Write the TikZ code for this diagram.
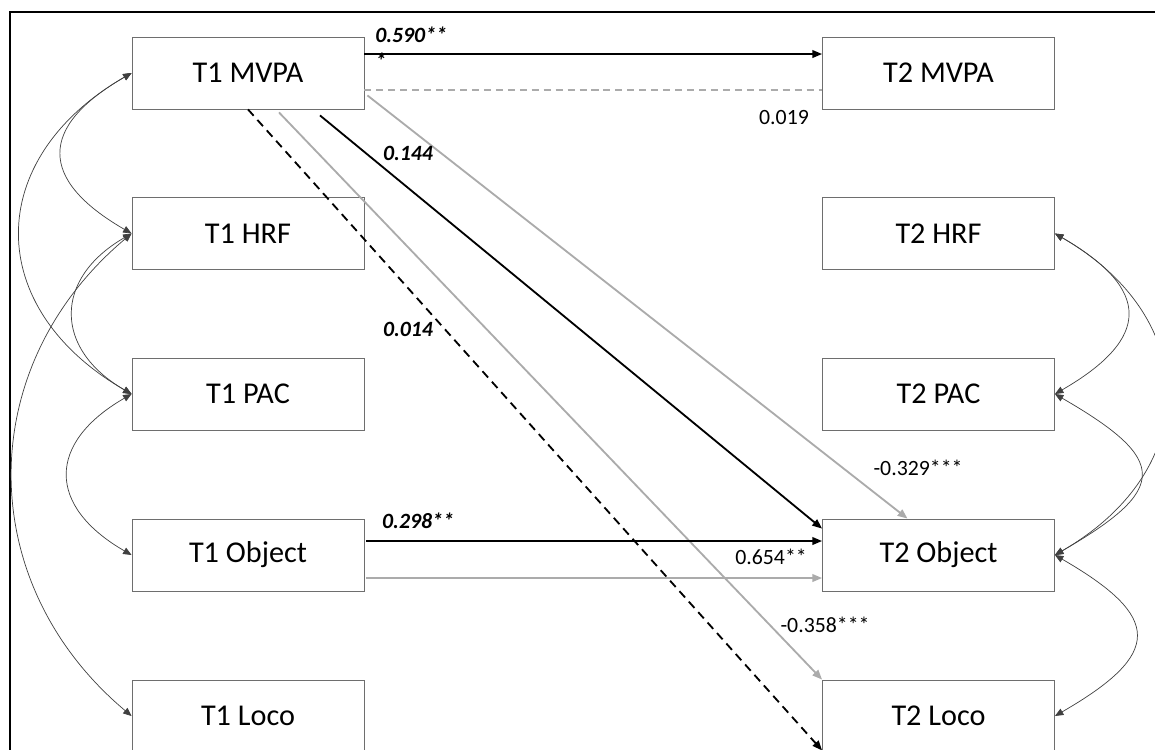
\documentclass[tikz,border=0pt]{standalone}
\usepackage{fontspec}
\setmainfont{Carlito}
\usetikzlibrary{arrows.meta, positioning}
\definecolor{pathgray}{HTML}{ABABAB}
\definecolor{boxgray}{HTML}{6E6E6E}

\begin{document}
\begin{tikzpicture}[
  var/.style={draw=boxgray, line width=0.6pt, minimum width=5.8cm,
              minimum height=1.8cm, inner sep=0pt,
              font=\fontsize{21.5}{25}\selectfont},
  sig/.style={line width=1.3pt, -{Triangle[length=7pt,width=5.5pt]}},
  nsig/.style={line width=1.3pt, draw=pathgray,
               -{Triangle[length=7pt,width=5.5pt]}},
  cov/.style={line width=0.5pt, draw=black!75,
              {Triangle[length=6pt,width=5pt]}-{Triangle[length=6pt,width=5pt]}},
  blab/.style={font=\fontsize{15.5}{18.5}\selectfont\bfseries\itshape, inner sep=0pt},
  lab/.style={font=\fontsize{15.5}{18.5}\selectfont, inner sep=0pt},
]
  \useasboundingbox (0,0) rectangle (28.875,-18.725);
  \draw[line width=1.2pt] (0.25,-19.2) |- (29.3,-0.3);

  % time 1
  \node[var] (t1mvpa)   at (6.2,-1.825)   {T1 MVPA};
  \node[var] (t1hrf)    at (6.2,-5.8375)  {T1 HRF};
  \node[var] (t1pac)    at (6.2,-9.85)    {T1 PAC};
  \node[var] (t1object) at (6.2,-13.875)  {T1 Object};
  \node[var] (t1loco)   at (6.2,-17.9)    {T1 Loco};

  % time 2
  \node[var] (t2mvpa)   at (23.4625,-1.825)   {T2 MVPA};
  \node[var] (t2hrf)    at (23.4625,-5.8375)  {T2 HRF};
  \node[var] (t2pac)    at (23.4625,-9.85)    {T2 PAC};
  \node[var] (t2object) at (23.4625,-13.875)  {T2 Object};
  \node[var] (t2loco)   at (23.4625,-17.9)    {T2 Loco};

  % paths
  \draw[sig] ([yshift=0.475cm]t1mvpa.east) -- ([yshift=0.475cm]t2mvpa.west);
  \draw[draw=pathgray, line width=1.3pt, dash pattern=on 5pt off 3.5pt]
    ([yshift=-0.425cm]t1mvpa.east) -- ([yshift=-0.425cm]t2mvpa.west);
  \draw[sig] ([xshift=1.8cm,yshift=-0.15cm]t1mvpa.south) -- ([yshift=-0.25cm]t2object.north west);
  \draw[nsig] ([xshift=0.075cm,yshift=0.35cm]t1mvpa.south east) -- ([xshift=-0.775cm]t2object.north);
  \draw[nsig] ([xshift=0.775cm,yshift=-0.075cm]t1mvpa.south) -- (t2loco.north west);
  \draw[sig, dash pattern=on 6pt off 4pt] (t1mvpa.south) -- ([yshift=0.05cm]t2loco.south west);
  \draw[sig] ([xshift=0.05cm,yshift=0.35cm]t1object.east) -- ([yshift=0.35cm]t2object.west);
  \draw[nsig] ([xshift=0.05cm,yshift=-0.575cm]t1object.east) -- ([yshift=-0.575cm]t2object.west);

  % estimates
  \node[blab, anchor=north west, align=left] (e590) at (9.375,-0.675) {0.590**\\*};
  \node[lab]  (e019) at (19.6,-2.95)    {0.019};
  \node[blab] (e144) at (10.2,-3.825)   {0.144};
  \node[blab] (e014) at (10.2,-8.225)   {0.014};
  \node[blab] (e298) at (10.45,-13.025) {0.298**};
  \node[lab]  (e654) at (19.275,-13.925) {0.654**};
  \node[lab]  (e329) at (22.95,-11.7)   {-0.329***};
  \node[lab]  (e358) at (20.625,-15.625) {-0.358***};

  % covariances
  \draw[cov] (t1mvpa.west) to[out=210, in=150, looseness=1.72] (t1hrf.west);
  \draw[cov] (t1mvpa.west) to[out=210, in=150, looseness=1.37] (t1pac.west);
  \draw[cov] (t1hrf.west)  to[out=210, in=150, looseness=1.44] (t1pac.west);
  \draw[cov] (t1hrf.west)  to[out=220, in=140, looseness=1.1]  (t1loco.west);
  \draw[cov] (t1pac.west)  to[out=210, in=150, looseness=1.56] (t1object.west);

  \draw[cov] (t2hrf.east)    to[out=-30, in=30, looseness=1.78] (t2pac.east);
  \draw[cov] (t2hrf.east)    to[out=-30, in=30, looseness=1.36] (t2object.east);
  \draw[cov] (t2pac.east)    to[out=-30, in=30, looseness=2.1]  (t2object.east);
  \draw[cov] (t2object.east) to[out=-30, in=30, looseness=1.98] (t2loco.east);
\end{tikzpicture}
\end{document}
